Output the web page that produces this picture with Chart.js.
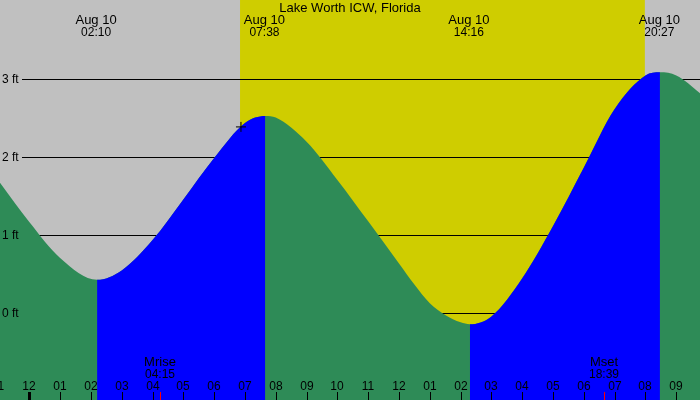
<!DOCTYPE html>
<html><head><meta charset="utf-8">
<script src="https://cdn.jsdelivr.net/npm/chart.js@4/dist/chart.umd.min.js"></script>
<style>html,body{margin:0;padding:0;background:#c0c0c0;}canvas{display:block;}</style>
</head><body>
<canvas id="c" width="700" height="400"></canvas>
<script>
// ---- data (hours since midnight Aug 10, heights in ft) ----
const chartTitle = 'Lake Worth ICW, Florida';
const hours   = [-1,   0,    1,    2.2,  3,    4,    5,    6,    7,    7.66, 8,    9,    10,   11,   12,   12.5, 13,   13.5,  14,    14.3,  15,    16,   17,   18,   19,   20,   20.47, 21,   21.77, 22];
const heights = [1.70, 1.17, 0.71, 0.43, 0.55, 0.94, 1.46, 1.99, 2.44, 2.53, 2.51, 2.20, 1.71, 1.18, 0.64, 0.37, 0.13, -0.02, -0.115, -0.14, -0.04, 0.45, 1.12, 1.87, 2.62, 3.05, 3.09,  3.05, 2.82,  2.73];
const extremeTimes  = [2.167, 7.633, 14.267, 20.45];
const extremeDates  = ['Aug 10', 'Aug 10', 'Aug 10', 'Aug 10'];
const extremeLabels = ['02:10', '07:38', '14:16', '20:27'];
const sunTimes = [6.84, 19.98];            // sunrise, sunset
const moonTimes  = [4.25, 18.65];
const moonNames  = ['Mrise', 'Mset'];
const moonLabels = ['04:15', '18:39'];
const markerTimes   = [6.87];
const markerHeights = [2.39];
const tickHours  = [-1,0,1,2,3,4,5,6,7,8,9,10,11,12,13,14,15,16,17,18,19,20,21];
const tickLabels = ['11','12','01','02','03','04','05','06','07','08','09','10','11','12','01','02','03','04','05','06','07','08','09'];
const midnightHours = [0];
const yTicks  = [0, 1, 2, 3];
const yLabels = ['0 ft', '1 ft', '2 ft', '3 ft'];

const xMin = -0.951, xMax = 21.77, yMin = -1.111, yMax = 4.017;
const nightColor = '#c0c0c0', dayColor = '#cfcd00', floodColor = '#0000ff', ebbColor = '#2e8b57';
const FONT = '"Liberation Sans", Arial, sans-serif';

const decor = {
  id: 'decor',
  beforeDatasetsDraw(chart) {
    const {ctx, chartArea: a, scales: {x, y}} = chart;
    ctx.save();
    ctx.fillStyle = nightColor;
    ctx.fillRect(a.left, a.top, a.width, a.height);
    const sx = x.getPixelForValue(sunTimes[0]), ex = x.getPixelForValue(sunTimes[1]);
    ctx.fillStyle = dayColor;
    ctx.fillRect(sx, a.top, ex - sx, a.height);
    ctx.strokeStyle = '#000'; ctx.lineWidth = 1;
    yTicks.forEach(v => {
      const py = Math.round(y.getPixelForValue(v)) + 0.5;
      ctx.beginPath(); ctx.moveTo(22, py); ctx.lineTo(a.right, py); ctx.stroke();
    });
    ctx.restore();
  },
  afterDatasetsDraw(chart) {
    const {ctx, chartArea: a, scales: {x, y}} = chart;
    ctx.save();
    ctx.fillStyle = '#000';
    // y labels
    ctx.font = '12px ' + FONT; ctx.textAlign = 'left'; ctx.textBaseline = 'middle';
    yTicks.forEach((v, i) => ctx.fillText(yLabels[i], 2, Math.round(y.getPixelForValue(v)) + 0.5));
    // title
    ctx.textBaseline = 'alphabetic'; ctx.textAlign = 'center';
    ctx.font = '13px ' + FONT;
    ctx.fillText(chartTitle, (a.left + a.right) / 2, 12);
    // extremes
    extremeTimes.forEach((t, i) => {
      const px = x.getPixelForValue(t);
      ctx.font = '13px ' + FONT; ctx.fillText(extremeDates[i], px, 24);
      ctx.font = '12px ' + FONT; ctx.fillText(extremeLabels[i], px, 36);
    });
    // hour ticks
    ctx.font = '12px ' + FONT;
    ctx.strokeStyle = '#000'; ctx.lineWidth = 1;
    tickHours.forEach((h, i) => {
      const px = Math.round(x.getPixelForValue(h));
      ctx.fillText(tickLabels[i], px, 390);
      if (midnightHours.includes(h)) {
        ctx.fillRect(px - 1, 392, 3, a.bottom - 392);
      } else {
        ctx.beginPath(); ctx.moveTo(px + 0.5, 392); ctx.lineTo(px + 0.5, a.bottom); ctx.stroke();
      }
    });
    // moon events
    moonTimes.forEach((t, i) => {
      const px = Math.round(x.getPixelForValue(t));
      ctx.fillStyle = '#000';
      ctx.font = '13px ' + FONT; ctx.fillText(moonNames[i], px, 366);
      ctx.font = '12px ' + FONT; ctx.fillText(moonLabels[i], px, 378);
      ctx.strokeStyle = '#ff0000';
      ctx.beginPath(); ctx.moveTo(px + 0.5, 392); ctx.lineTo(px + 0.5, a.bottom); ctx.stroke();
    });
    ctx.restore();
  }
};

const tidePoints = () => hours.map((h, i) => ({x: h, y: heights[i]}));
const clear = 'rgba(0,0,0,0)';

new Chart(document.getElementById('c'), {
  type: 'line',
  data: {
    datasets: [
      { // marker
        data: markerTimes.map((t, i) => ({x: t, y: markerHeights[i]})),
        showLine: false, pointStyle: 'cross', pointRadius: 5, pointBorderColor: '#000',
        pointBorderWidth: 1, pointBackgroundColor: '#000', fill: false, clip: false
      },
      { // flood (rising) overlay
        data: tidePoints(),
        fill: 'start', borderWidth: 0, borderColor: clear, backgroundColor: clear,
        pointRadius: 0, cubicInterpolationMode: 'monotone',
        segment: { backgroundColor: c => c.p1.parsed.y > c.p0.parsed.y ? floodColor : clear }
      },
      { // ebb base
        data: tidePoints(),
        fill: 'start', borderWidth: 0, borderColor: clear, backgroundColor: ebbColor,
        pointRadius: 0, cubicInterpolationMode: 'monotone'
      }
    ]
  },
  options: {
    responsive: false, animation: false, events: [],
    layout: {padding: 0, autoPadding: false},
    plugins: {legend: {display: false}, tooltip: {enabled: false}, title: {display: false}},
    scales: {
      x: {type: 'linear', min: xMin, max: xMax, display: false},
      y: {type: 'linear', min: yMin, max: yMax, display: false}
    }
  },
  plugins: [decor]
});
</script>
</body></html>
